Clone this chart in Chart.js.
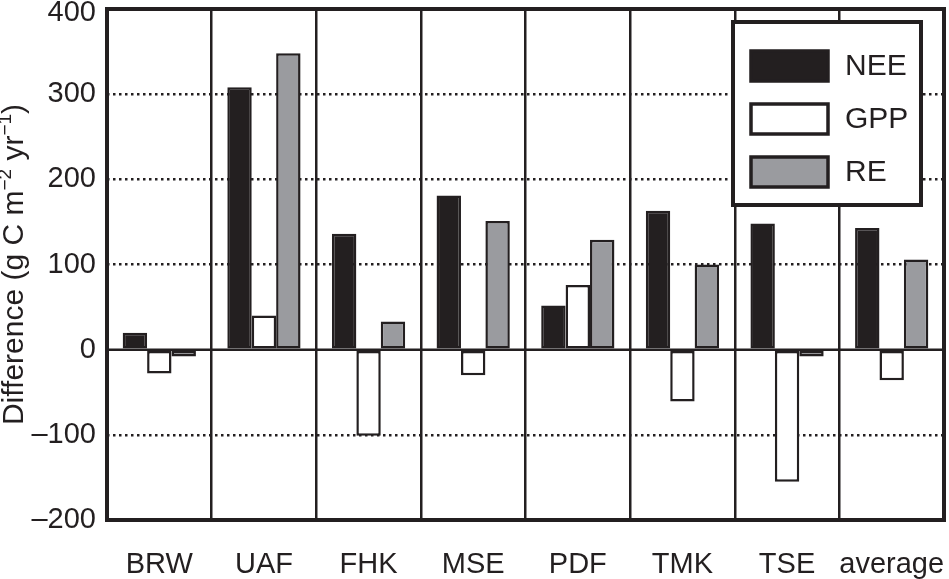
<!DOCTYPE html>
<html>
<head>
<meta charset="utf-8">
<script src="https://cdn.jsdelivr.net/npm/chart.js@4.4.1/dist/chart.umd.min.js"></script>
<style>
  html, body { margin: 0; padding: 0; background: #fff; }
  #wrap { width: 949px; height: 579px; }
</style>
</head>
<body>
<div id="wrap"><canvas id="diffChart"></canvas></div>
<script>
// data
const sites = ['BRW', 'UAF', 'FHK', 'MSE', 'PDF', 'TMK', 'TSE', 'average'];
const neeValues = [20, 308, 136, 181, 52, 163, 148, 143];
const gppValues = [-28, 40, -101, -30, 76, -61, -155, -36];
const reValues = [-8, 348, 33, 151, 129, 100, -8, 106];
const yTicks = [-200, -100, 0, 100, 200, 300, 400];
const dottedAt = [-100, 100, 200, 300];

const INK = '#231f20';
const GREY = '#9a9b9f';
const FONT = '"Liberation Sans", Arial, Helvetica, sans-serif';

// frame, zero line, axis title and the boxed legend
const decorations = {
    id: 'decorations',
    beforeDatasetsDraw(chart) {
        const { ctx, chartArea, scales } = chart;
        const y0 = scales.y.getPixelForValue(0);
        ctx.save();
        ctx.strokeStyle = INK;
        ctx.lineWidth = 2.5;
        ctx.beginPath();
        ctx.moveTo(chartArea.left, y0);
        ctx.lineTo(chartArea.right, y0);
        ctx.stroke();
        ctx.restore();
    },
    afterDatasetsDraw(chart) {
        const { ctx, chartArea } = chart;
        ctx.save();
        ctx.strokeStyle = INK;
        ctx.lineWidth = 4;
        ctx.strokeRect(chartArea.left, chartArea.top,
            chartArea.right - chartArea.left, chartArea.bottom - chartArea.top);
        ctx.restore();
    },
    afterDraw(chart) {
        const { ctx, chartArea } = chart;
        ctx.save();

        // y axis title with superscripts
        const parts = [
            ['Difference (g C m', false],
            ['\u22122', true],
            [' yr', false],
            ['\u22121', true],
            [')', false]
        ];
        const big = '30px ' + FONT;
        const small = '19px ' + FONT;
        let total = 0;
        parts.forEach(p => {
            ctx.font = p[1] ? small : big;
            total += ctx.measureText(p[0]).width;
        });
        ctx.translate(15, (chartArea.top + chartArea.bottom) / 2);
        ctx.rotate(-Math.PI / 2);
        ctx.fillStyle = INK;
        ctx.textBaseline = 'middle';
        let x = -total / 2;
        parts.forEach(p => {
            ctx.font = p[1] ? small : big;
            ctx.fillText(p[0], x, p[1] ? -9 : 0);
            x += ctx.measureText(p[0]).width;
        });
        ctx.restore();

        // legend box
        ctx.save();
        const bx = chartArea.right - 211, by = 22, bw = 188, bh = 183;
        ctx.fillStyle = '#fff';
        ctx.fillRect(bx, by, bw, bh);
        ctx.strokeStyle = INK;
        ctx.lineWidth = 4;
        ctx.strokeRect(bx, by, bw, bh);
        ctx.font = '30px ' + FONT;
        ctx.textBaseline = 'middle';
        chart.data.datasets.forEach((ds, i) => {
            const sy = by + 29 + i * 53;
            ctx.fillStyle = ds.backgroundColor;
            ctx.fillRect(bx + 18, sy, 77, 30);
            ctx.lineWidth = 3.5;
            ctx.strokeStyle = INK;
            ctx.strokeRect(bx + 18, sy, 77, 30);
            ctx.fillStyle = INK;
            ctx.fillText(ds.label, bx + 112, sy + 16);
        });
        ctx.restore();
    }
};

new Chart(document.getElementById('diffChart'), {
    type: 'bar',
    data: {
        labels: sites,
        datasets: [
            { label: 'NEE', data: neeValues, backgroundColor: INK, borderColor: INK },
            { label: 'GPP', data: gppValues, backgroundColor: '#ffffff', borderColor: INK },
            { label: 'RE', data: reValues, backgroundColor: GREY, borderColor: INK }
        ]
    },
    options: {
        responsive: true,
        maintainAspectRatio: false,
        animation: false,
        devicePixelRatio: 1,
        layout: { padding: { top: 9, right: 5, left: 0, bottom: 0 } },
        datasets: {
            bar: {
                borderWidth: 2.5,
                borderSkipped: false,
                categoryPercentage: 0.7,
                barPercentage: 1.0
            }
        },
        plugins: {
            legend: { display: false },
            tooltip: { enabled: false }
        },
        scales: {
            x: {
                grid: {
                    color: INK,
                    lineWidth: 2.5,
                    offset: true,
                    drawTicks: false
                },
                border: { display: false },
                ticks: {
                    color: INK,
                    font: { family: FONT, size: 29 },
                    padding: 28,
                    maxRotation: 0,
                    minRotation: 0,
                    autoSkip: false
                },
                afterFit: function(scale) {
                    scale.height = 59;
                    scale.paddingLeft = 0;
                    scale.paddingRight = 0;
                }
            },
            y: {
                min: -200,
                max: 400,
                afterBuildTicks: function(scale) {
                    scale.ticks = yTicks.map(v => ({ value: v }));
                },
                grid: {
                    drawTicks: false,
                    lineWidth: 2.5,
                    color: function(ctx) {
                        return ctx.tick && dottedAt.includes(ctx.tick.value) ? INK : 'rgba(0,0,0,0)';
                    }
                },
                border: { display: false, dash: [2.5, 3.5] },
                ticks: {
                    color: INK,
                    padding: 11,
                    // the top label sits a little below its line in the original
                    font: function(ctx) {
                        const top = ctx.tick && ctx.tick.value === 400;
                        return { family: FONT, size: 29, lineHeight: top ? '8px' : 1.2 };
                    },
                    callback: function(value) {
                        const txt = value < 0 ? '\u2013' + Math.abs(value) : String(value);
                        return value === 400 ? ['', txt] : txt;
                    }
                },
                afterFit: function(scale) {
                    scale.width = 107;
                    scale.paddingTop = 0;
                    scale.paddingBottom = 0;
                }
            }
        }
    },
    plugins: [decorations]
});
</script>
</body>
</html>
